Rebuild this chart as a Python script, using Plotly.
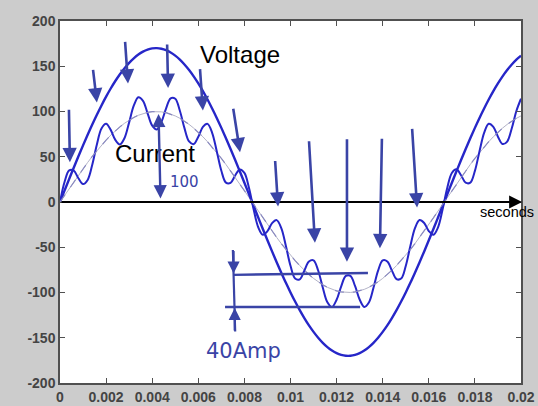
import plotly.graph_objects as go

# ---- data ----
time_s = [round(0.0002 * k, 4) for k in range(101)]

voltage = [0, 12.8, 25.5, 38.1, 50.5, 62.6, 74.3, 85.6, 96.4, 106.7, 116.4, 125.4, 133.7, 141.2, 147.9,
           153.8, 158.8, 162.9, 166.1, 168.4, 169.7, 170.0, 169.3, 167.7, 165.2, 161.7, 157.3, 151.9,
           145.8, 138.8, 131.0, 122.5, 113.2, 103.3, 92.9, 81.9, 70.4, 58.6, 46.4, 33.9, 21.3, 8.5,
           -4.3, -17.1, -29.8, -42.3, -54.6, -66.5, -78.1, -89.3, -99.9, -110.0, -119.5, -128.2,
           -136.3, -143.5, -150.0, -155.6, -160.3, -164.1, -167.0, -168.9, -169.9, -169.9, -168.9,
           -167.0, -164.1, -160.3, -155.6, -150.0, -143.5, -136.3, -128.2, -119.5, -110.0, -99.9,
           -89.3, -78.1, -66.5, -54.6, -42.3, -29.8, -17.1, -4.3, 8.5, 21.3, 33.9, 46.4, 58.6, 70.4,
           81.9, 92.9, 103.3, 113.2, 122.5, 131.0, 138.8, 145.8, 151.9, 157.3, 161.7]

current = [0, 22.3, 34.9, 34.6, 26.2, 19.9, 24.4, 41.2, 63.6, 81.3, 86.5, 79.7, 68.6, 63.5, 70.7, 88.0,
           106.4, 115.8, 111.8, 98.0, 84.4, 80.2, 88.3, 103.2, 114.6, 114.1, 100.8, 81.6, 66.9, 64.0,
           72.1, 83.0, 86.3, 76.5, 56.2, 34.5, 21.4, 21.2, 29.3, 36.0, 32.2, 15.5, -8.0, -27.9, -36.2,
           -32.2, -23.4, -20.0, -28.8, -48.5, -70.5, -84.6, -85.4, -75.9, -65.8, -64.5, -75.7, -94.5,
           -110.8, -116.0, -108.0, -93.1, -81.7, -81.6, -92.8, -107.7, -115.9, -111.0, -94.7, -75.8,
           -64.5, -65.7, -75.8, -85.2, -84.6, -70.7, -48.7, -28.9, -19.9, -23.2, -32.1, -36.1, -28.0,
           -8.1, 15.4, 32.1, 36.1, 29.5, 21.3, 21.4, 34.4, 56.0, 76.4, 86.4, 83.1, 72.2, 64.1, 66.8,
           81.4, 100.6, 114.1]

fundamental = [0, 7.53, 15.02, 22.43, 29.71, 36.81, 43.71, 50.36, 56.72, 62.77, 68.45, 73.78, 78.62,
               83.05, 87.01, 90.48, 93.43, 95.85, 97.73, 99.05, 99.80, 99.99, 99.61, 98.67, 97.16,
               95.11, 92.50, 89.38, 85.75, 81.63, 77.05, 72.03, 66.61, 60.79, 54.64, 48.18, 41.44,
               34.47, 27.30, 19.97, 12.53, 5.02, -2.51, -10.04, -17.50, -24.87, -32.10, -39.13,
               -45.96, -52.52, -58.78, -64.71, -70.27, -75.42, -80.18, -84.43, -88.22, -91.52,
               -94.30, -96.54, -98.23, -99.36, -99.93, -99.93, -99.36, -98.23, -96.54, -94.30,
               -91.52, -88.22, -84.43, -80.18, -75.42, -70.27, -64.71, -58.78, -52.52, -45.96,
               -39.13, -32.10, -24.87, -17.50, -10.04, -2.51, 5.02, 12.53, 19.97, 27.30, 34.47,
               41.44, 48.18, 54.64, 60.79, 66.61, 72.03, 77.05, 81.63, 85.75, 89.38, 92.50, 95.11]

x_tick_vals = [0, 0.002, 0.004, 0.006, 0.008, 0.01, 0.012, 0.014, 0.016, 0.018, 0.02]
x_tick_labels = ["0", "0.002", "0.004", "0.006", "0.008", "0.01", "0.012", "0.014", "0.016", "0.018", "0.02"]
y_tick_vals = [-200, -150, -100, -50, 0, 50, 100, 150, 200]
y_tick_labels = ["-200", "-150", "-100", "-50", "0", "50", "100", "150", "200"]

# ---- styles ----
LINE_BLUE = "#2626c8"
PEN = "#3a44a6"
AX = "#505050"
TICKFONT = dict(family="Liberation Sans, Arial, sans-serif", size=14, color="#444444", weight="bold")

fig = go.Figure()
fig.add_trace(go.Scatter(x=time_s, y=fundamental, mode="lines",
                         line=dict(color="#b4b4c8", width=1), hoverinfo="skip"))
fig.add_trace(go.Scatter(x=time_s, y=current, mode="lines",
                         line=dict(color=LINE_BLUE, width=2, shape="spline", smoothing=1), name="Current"))
fig.add_trace(go.Scatter(x=time_s, y=voltage, mode="lines",
                         line=dict(color=LINE_BLUE, width=2.4, shape="spline"), name="Voltage"))
fig.add_trace(go.Scatter(x=time_s, y=fundamental, mode="lines",
                         line=dict(color="#8a8ac0", width=1.2, dash="dash"), name="Fundamental"))

axis_common = dict(ticks="inside", ticklen=5, tickcolor=AX, tickwidth=1, showline=True,
                   linecolor=AX, linewidth=1.5, mirror="ticks", showgrid=False, zeroline=False,
                   tickfont=TICKFONT, automargin=False)
fig.update_xaxes(range=[0, 0.02], tickvals=x_tick_vals, ticktext=x_tick_labels, **axis_common)
fig.update_yaxes(range=[-200, 200], tickvals=y_tick_vals, ticktext=y_tick_labels, **axis_common)

annotations = []
# black time axis with arrow
annotations.append(dict(x=0.02005, y=0, ax=0, ay=0, axref="x", ayref="y", xref="x", yref="y",
                        showarrow=True, arrowhead=2, arrowsize=1.3, arrowwidth=2, arrowcolor="black",
                        text="", standoff=0))
# printed labels
annotations.append(dict(x=0.00779, y=163.5, text="Voltage", showarrow=False,
                        font=dict(family="Liberation Sans, Arial", size=24, color="black")))
annotations.append(dict(x=0.00414, y=53.6, text="Current", showarrow=False,
                        font=dict(family="Liberation Sans, Arial", size=24, color="black")))
annotations.append(dict(x=0.01812, y=-11, text="seconds", showarrow=False, xanchor="left",
                        font=dict(family="Liberation Sans, Arial", size=14.5, color="black")))

# hand-drawn arrows (tip in data coords, tail offset in pixels)
pen_arrows = [
    (0.00043, 44, -1, -54), (0.0016, 110, -4, -34), (0.00295, 131, -3, -43),
    (0.00469, 126, -1, -45), (0.0062, 101, -3, -43), (0.00781, 55, -7, -45),
    (0.00946, -5, -3, -47), (0.01106, -45, -6, -103), (0.01245, -66, 0, -124),
    (0.01388, -51, 2, -111), (0.01549, -6, -5, -80),
]
for tx, ty, ax_, ay_ in pen_arrows:
    annotations.append(dict(x=tx, y=ty, ax=ax_, ay=ay_, xref="x", yref="y", text="",
                            showarrow=True, arrowhead=2, arrowsize=1.1, arrowwidth=2.6,
                            arrowcolor=PEN, standoff=0))
# double arrow "100"
annotations.append(dict(x=0.00436, y=4, ax=-2, ay=-86, xref="x", yref="y", text="",
                        showarrow=True, arrowhead=2, startarrowhead=2, arrowside="end+start",
                        arrowsize=1.1, arrowwidth=2.4, arrowcolor=PEN, standoff=0, startstandoff=0))
annotations.append(dict(x=0.00542, y=22, text="100", showarrow=False,
                        font=dict(family="DejaVu Sans", size=15, color=PEN)))
# 40 Amp bracket arrow heads
annotations.append(dict(x=0.00753, y=-79, ax=0, ay=-24, xref="x", yref="y", text="",
                        showarrow=True, arrowhead=2, arrowsize=1.1, arrowwidth=2.2,
                        arrowcolor=PEN, standoff=0))
annotations.append(dict(x=0.00758, y=-117, ax=0, ay=24, xref="x", yref="y", text="",
                        showarrow=True, arrowhead=2, arrowsize=1.1, arrowwidth=2.2,
                        arrowcolor=PEN, standoff=0))
annotations.append(dict(x=0.00794, y=-165, text="40Amp", showarrow=False,
                        font=dict(family="DejaVu Sans", size=21, color=PEN)))

shapes = [
    dict(type="line", xref="x", yref="y", x0=0.00751, y0=-80.5, x1=0.01336, y1=-78.5,
         line=dict(color=PEN, width=2.4)),
    dict(type="line", xref="x", yref="y", x0=0.00716, y0=-116, x1=0.01302, y1=-116,
         line=dict(color=PEN, width=2.4)),
    dict(type="line", xref="x", yref="y", x0=0.0075, y0=-53, x1=0.0076, y1=-143,
         line=dict(color=PEN, width=2.2)),
]

fig.update_layout(width=538, height=406, paper_bgcolor="#cccccc", plot_bgcolor="white",
                  margin=dict(l=60, r=17, t=21, b=23), showlegend=False,
                  annotations=annotations, shapes=shapes)

fig.write_html("out.html", config={"displayModeBar": False},
               post_script="document.body.style.margin='0px';document.body.style.overflow='hidden';")
